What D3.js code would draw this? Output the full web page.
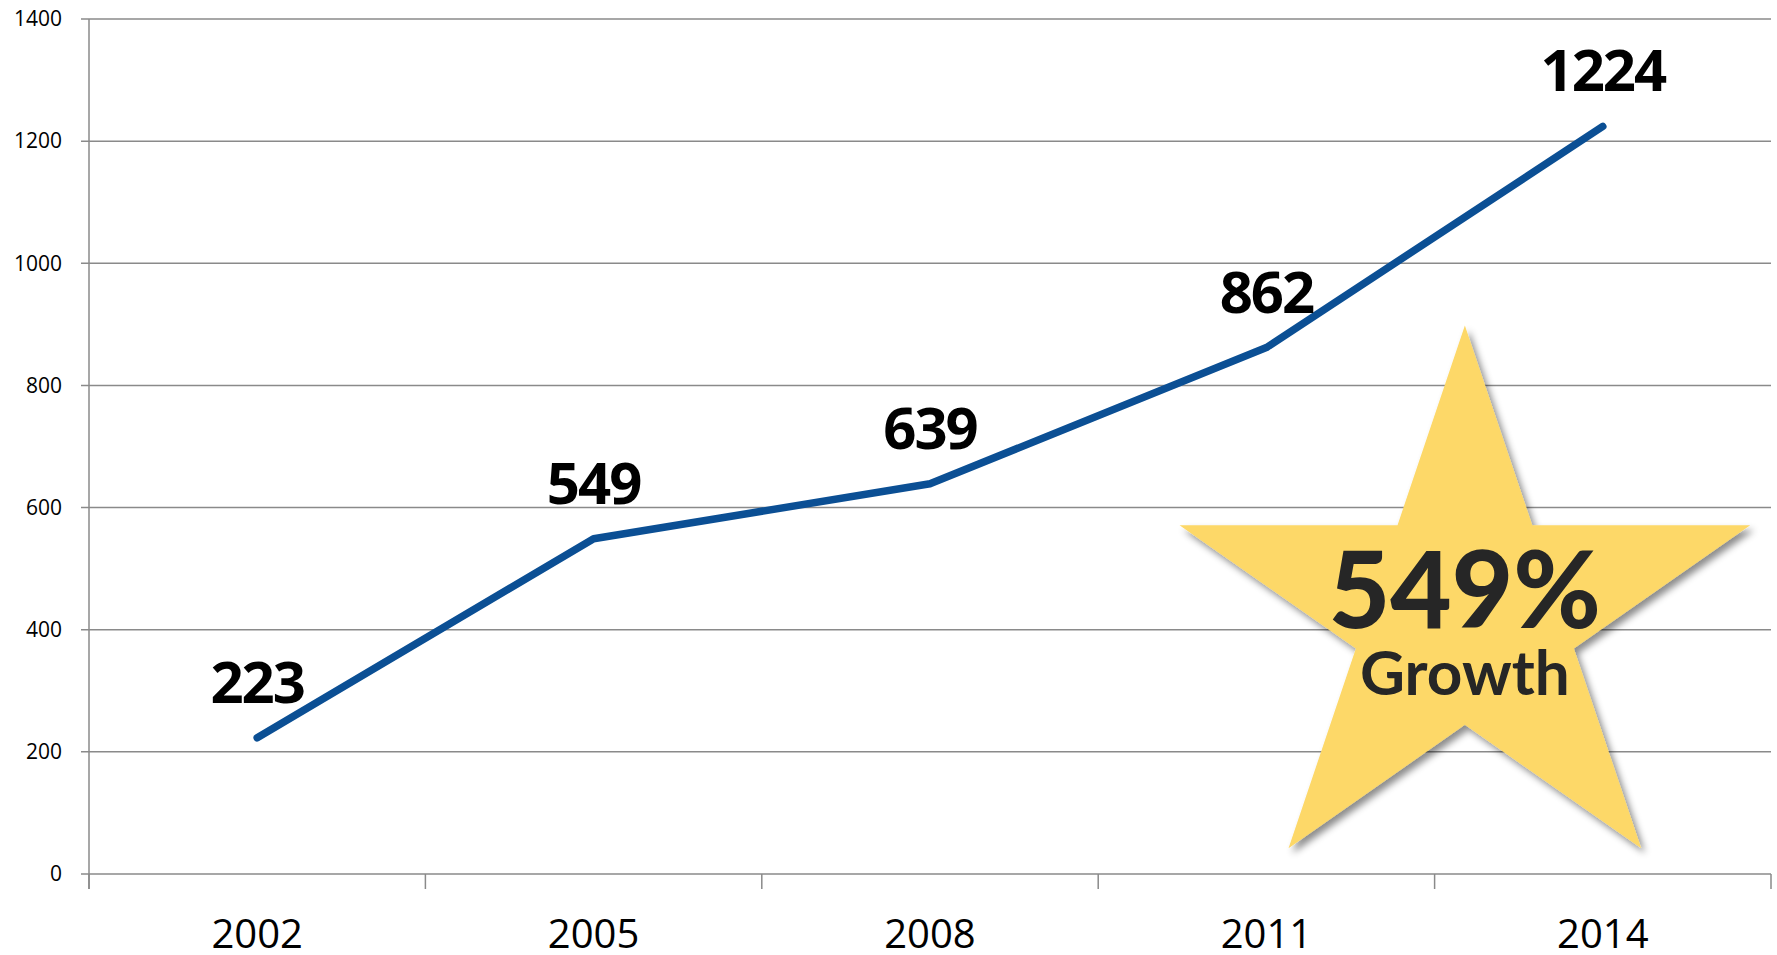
<!DOCTYPE html>
<html>
<head>
<meta charset="utf-8">
<script src="https://cdn.jsdelivr.net/npm/d3@7"></script>
<style>
  html, body { margin: 0; padding: 0; background: #fff; }
  svg { display: block; }
</style>
</head>
<body>
<svg id="chart"></svg>
<script>
// Daten
const years = ["2002", "2005", "2008", "2011", "2014"];
const values = [223, 549, 639, 862, 1224];
const yTicks = [0, 200, 400, 600, 800, 1000, 1200, 1400];
const badgeLines = ["549%", "Growth"];

// Layout
const W = 1777, H = 955;
const margin = { top: 19, right: 6, bottom: 81, left: 89 };
const width = W - margin.left - margin.right;
const height = H - margin.top - margin.bottom;

const svg = d3.select("#chart")
  .attr("width", W)
  .attr("height", H)
  .attr("viewBox", `0 0 ${W} ${H}`);

svg.append("rect").attr("width", W).attr("height", H).attr("fill", "#fff");

const defs = svg.append("defs");
const f = defs.append("filter").attr("id", "shadow")
  .attr("x", "-20%").attr("y", "-20%").attr("width", "140%").attr("height", "140%");
f.append("feDropShadow")
  .attr("dx", 4).attr("dy", 5).attr("stdDeviation", 3.5)
  .attr("flood-color", "#000").attr("flood-opacity", 0.45);

const g = svg.append("g").attr("transform", `translate(${margin.left},${margin.top})`);

// Scales
const x = d3.scaleBand().domain(years).range([0, width]).padding(0);
const y = d3.scaleLinear().domain([0, 1400]).range([height, 0]);

const gridColor = "#8a8a8a";

// Gridlines (mit Tick nach links)
g.append("g")
  .selectAll("line")
  .data(yTicks)
  .join("line")
    .attr("x1", -8)
    .attr("x2", width)
    .attr("y1", d => y(d))
    .attr("y2", d => y(d))
    .attr("stroke", gridColor)
    .attr("stroke-width", 1.5);

// Y-Achse
g.append("line")
  .attr("x1", 0).attr("x2", 0)
  .attr("y1", 0).attr("y2", height + 15)
  .attr("stroke", gridColor)
  .attr("stroke-width", 1.5);

g.append("g")
  .selectAll("text")
  .data(yTicks)
  .join("text")
    .attr("x", -27)
    .attr("y", d => y(d))
    .attr("dy", "0.35em")
    .attr("text-anchor", "end")
    .attr("font-family", "'Open Sans', sans-serif")
    .attr("font-size", 21)
    .attr("fill", "#000")
    .text(d => d);

// X-Achse: Ticks an Kategoriegrenzen
const bounds = years.map(d => x(d)).concat([width]);
g.append("g")
  .selectAll("line")
  .data(bounds)
  .join("line")
    .attr("x1", d => d).attr("x2", d => d)
    .attr("y1", height).attr("y2", height + 15)
    .attr("stroke", gridColor)
    .attr("stroke-width", 1.5);

g.append("g")
  .selectAll("text")
  .data(years)
  .join("text")
    .attr("x", d => x(d) + x.bandwidth() / 2)
    .attr("y", height + 74)
    .attr("text-anchor", "middle")
    .attr("font-family", "'Open Sans', sans-serif")
    .attr("font-size", 40)
    .attr("fill", "#000")
    .text(d => d);

// Linie
const pts = years.map((yr, i) => ({ year: yr, value: values[i] }));
const line = d3.line()
  .x(d => x(d.year) + x.bandwidth() / 2)
  .y(d => y(d.value));

g.append("path")
  .datum(pts)
  .attr("d", line)
  .attr("fill", "none")
  .attr("stroke", "#0b4f94")
  .attr("stroke-width", 7.5)
  .attr("stroke-linecap", "round")
  .attr("stroke-linejoin", "round");

// Wert-Labels
g.append("g")
  .selectAll("text")
  .data(pts)
  .join("text")
    .attr("x", d => x(d.year) + x.bandwidth() / 2)
    .attr("y", d => y(d.value) - 35)
    .attr("text-anchor", "middle")
    .attr("font-family", "'Open Sans', sans-serif")
    .attr("font-weight", 700)
    .attr("font-size", 58)
    .attr("letter-spacing", -2)
    .attr("fill", "#000")
    .text(d => d.value);

// Stern-Badge (Annotation)
const cx = x("2014") + x.bandwidth() * 0.09;
const cy = y(425);
const Rx = 300, Ry = 289, ratio = 0.382;
const starPts = d3.range(10).map(i => {
  const a = -Math.PI / 2 + i * Math.PI / 5;
  const r = i % 2 === 0 ? 1 : ratio;
  return [cx + Math.cos(a) * Rx * r, cy + Math.sin(a) * Ry * r];
});

const badge = g.append("g");
badge.append("path")
  .attr("d", d3.line()(starPts) + "Z")
  .attr("fill", "#fdd868")
  .attr("filter", "url(#shadow)");

badge.append("text")
  .attr("x", cx)
  .attr("y", cy + 14)
  .attr("text-anchor", "middle")
  .attr("font-family", "Lato, sans-serif")
  .attr("font-weight", 900)
  .attr("font-size", 106)
  .attr("fill", "#262626")
  .text(badgeLines[0]);

badge.append("text")
  .attr("x", cx)
  .attr("y", cy + 81)
  .attr("text-anchor", "middle")
  .attr("font-family", "Lato, sans-serif")
  .attr("font-weight", 700)
  .attr("font-size", 62)
  .attr("fill", "#262626")
  .text(badgeLines[1]);
</script>
</body>
</html>
